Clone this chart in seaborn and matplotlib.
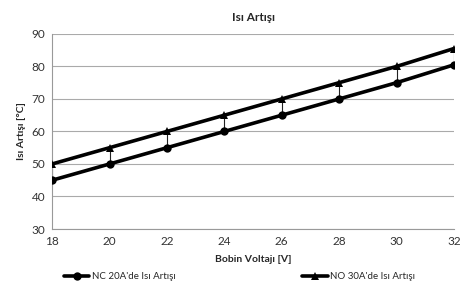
import numpy as np
import pandas as pd
import matplotlib
matplotlib.use("Agg")
import matplotlib.pyplot as plt
import seaborn as sns

# Bobin voltajı [V]
voltaj = [18, 20, 22, 24, 26, 28, 30, 32]
# Isı artışı [°C]
nc_20a = [45, 50, 55, 60, 65, 70, 75, 80.5]
no_30a = [50, 55, 60, 65, 70, 75, 80, 85.5]

seri_nc = "NC 20A'de Isı Artışı"
seri_no = "NO 30A'de Isı Artışı"

df = pd.DataFrame({
    "voltaj": voltaj * 2,
    "artis": nc_20a + no_30a,
    "seri": [seri_nc] * len(voltaj) + [seri_no] * len(voltaj),
})

sns.set_theme(style="white")
plt.rcParams["font.family"] = ["Lato", "DejaVu Sans"]

fig, ax = plt.subplots(figsize=(4.61, 2.87), dpi=100)
fig.subplots_adjust(left=0.113, right=0.985, top=0.882, bottom=0.202)

# yüksek-düşük çizgileri
ax.vlines(voltaj, nc_20a, no_30a, color="#222222", lw=0.8, zorder=2)

sns.lineplot(data=df, x="voltaj", y="artis", hue="seri", style="seri",
             markers={seri_nc: "o", seri_no: "^"}, dashes=False,
             palette={seri_nc: "black", seri_no: "black"},
             linewidth=2.6, markersize=6, markeredgewidth=0,
             ax=ax, zorder=3)

ax.set_xlim(18, 32)
ax.set_ylim(30, 90)
ax.set_xticks(range(18, 33, 2))
ax.set_yticks(range(30, 91, 10))
ax.yaxis.grid(True, color="#aaaaaa", lw=0.8)
ax.set_axisbelow(True)
for s in ["top", "right"]:
    ax.spines[s].set_visible(False)
for s in ["left", "bottom"]:
    ax.spines[s].set_color("#999999")
    ax.spines[s].set_linewidth(0.8)
ax.tick_params(axis="both", labelsize=8.5, colors="#333333", length=3,
               width=0.8, pad=2)
ax.tick_params(axis="both", color="#999999")

ax.set_title("Isı Artışı", fontsize=8.5, fontweight="bold", pad=9)
ax.set_xlabel("Bobin Voltajı [V]", fontsize=7.5, fontweight="bold", labelpad=6)
ax.set_ylabel("Isı Artışı [°C]", fontsize=7.5, fontweight="bold", labelpad=4)

handles, labels = ax.get_legend_handles_labels()
ax.legend_.remove()
fig.legend(handles, labels, loc="lower center", bbox_to_anchor=(0.52, -0.01),
           ncol=2, frameon=False, fontsize=7, columnspacing=13,
           handlelength=2.6, handletextpad=0.3)

fig.savefig("out.png", dpi=100)
